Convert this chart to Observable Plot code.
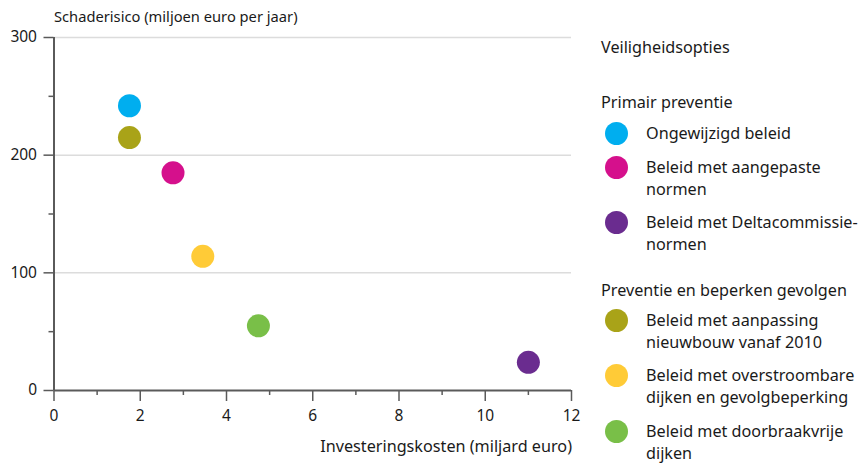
<!DOCTYPE html>
<html>
<head>
<meta charset="utf-8">
<script src="https://cdn.jsdelivr.net/npm/d3@7"></script>
<script src="https://cdn.jsdelivr.net/npm/@observablehq/plot@0.6"></script>
<style>
  html, body { margin: 0; padding: 0; background: #fff; }
  #wrap { position: relative; width: 863px; height: 463px; font-family: "Noto Sans", sans-serif; color: #1a1a1a; }
  #wrap svg { position: absolute; left: 0; top: 0; }
  .lbl { position: absolute; font-size: 16.2px; line-height: 22px; white-space: pre; }
  .sw { position: absolute; width: 23px; height: 23px; border-radius: 50%; }
</style>
</head>
<body>
<div id="wrap"></div>
<script>
// ---- data ----
const categories = [
  "Ongewijzigd beleid",
  "Beleid met aangepaste normen",
  "Beleid met Deltacommissie-normen",
  "Beleid met aanpassing nieuwbouw vanaf 2010",
  "Beleid met overstroombare dijken en gevolgbeperking",
  "Beleid met doorbraakvrije dijken"
];
const legendLabels = [
  "Ongewijzigd beleid",
  "Beleid met aangepaste\nnormen",
  "Beleid met Deltacommissie-\nnormen",
  "Beleid met aanpassing\nnieuwbouw vanaf 2010",
  "Beleid met overstroombare\ndijken en gevolgbeperking",
  "Beleid met doorbraakvrije\ndijken"
];
const groups = ["Primair preventie", "Primair preventie", "Primair preventie",
  "Preventie en beperken gevolgen", "Preventie en beperken gevolgen", "Preventie en beperken gevolgen"];
const kosten = [1.75, 2.76, 11.0, 1.75, 3.45, 4.74];        // miljard euro
const schaderisico = [242, 185, 24, 215, 114, 55];          // miljoen euro per jaar
const colors = ["#00AEEF", "#D5108C", "#6A2C8F", "#A9A318", "#FFCB37", "#79BF48"];
const xMajorTicks = [0, 2, 4, 6, 8, 10, 12];
const xMinorTicks = [1, 3, 5, 7, 9, 11];
const yMajorTicks = [0, 100, 200, 300];
const yMinorTicks = [50, 150, 250];
const gridValues = [100, 200, 300];

const data = categories.map((c, i) => ({cat: c, x: kosten[i], y: schaderisico[i]}));

const axisColor = "#5a5a5a";
const plot = Plot.plot({
  width: 863, height: 463,
  marginLeft: 53.5, marginRight: 292, marginTop: 37, marginBottom: 73,
  style: {fontFamily: "Noto Sans, sans-serif", fontSize: "15.5px", color: "#1a1a1a", background: "transparent"},
  x: {domain: [0, 12]},
  y: {domain: [0, 300]},
  color: {domain: categories, range: colors},
  marks: [
    Plot.ruleY(gridValues, {stroke: "#dcdcdc", strokeWidth: 1.5}),
    Plot.axisY(yMajorTicks, {tickSize: 10, tickPadding: 7, stroke: axisColor, strokeWidth: 1.5, label: null, fill: "#1a1a1a"}),
    Plot.axisY(yMinorTicks, {tickSize: 5, tickFormat: () => "", stroke: axisColor, strokeWidth: 1.5, label: null}),
    Plot.axisX(xMajorTicks, {tickSize: 11, tickPadding: 8, stroke: axisColor, strokeWidth: 1.5, label: null, fill: "#1a1a1a"}),
    Plot.axisX(xMinorTicks, {tickSize: 5, tickFormat: () => "", stroke: axisColor, strokeWidth: 1.5, label: null}),
    Plot.ruleX([0], {stroke: axisColor, strokeWidth: 2}),
    Plot.ruleY([0], {stroke: axisColor, strokeWidth: 2}),
    Plot.dot(data, {x: "x", y: "y", r: 11.5, fill: "cat", stroke: null})
  ]
});
const wrap = document.getElementById("wrap");
wrap.appendChild(plot);

function addLabel(text, left, centerY, extra) {
  const d = document.createElement("div");
  d.className = "lbl";
  d.textContent = text;
  d.style.left = left + "px";
  d.style.top = (centerY - 11) + "px";
  if (extra) Object.assign(d.style, extra);
  wrap.appendChild(d);
  return d;
}
// axis titles
addLabel("Schaderisico (miljoen euro per jaar)", 54, 16, {fontSize: "14.7px"});
addLabel("Investeringskosten (miljard euro)", 0, 446, {left: "auto", right: (863 - 572) + "px", fontSize: "16.2px"});

// legend
addLabel("Veiligheidsopties", 601, 47);
const groupY = {"Primair preventie": 102, "Preventie en beperken gevolgen": 290};
const itemY = [133, 167, 222, 320, 375, 431];
for (const g of Object.keys(groupY)) addLabel(g, 601, groupY[g]);
categories.forEach((c, i) => {
  const s = document.createElement("div");
  s.className = "sw";
  s.style.background = colors[i];
  s.style.left = (616 - 11.5) + "px";
  s.style.top = (itemY[i] - 11.5) + "px";
  wrap.appendChild(s);
  addLabel(legendLabels[i], 646, itemY[i]);
});
</script>
</body>
</html>
